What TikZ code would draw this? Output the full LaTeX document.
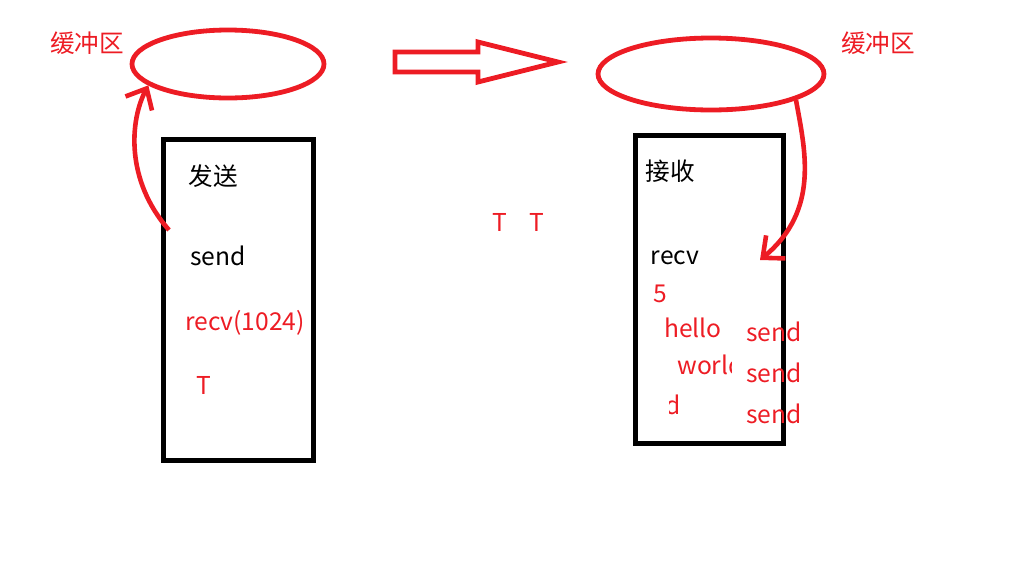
\documentclass[tikz,border=0pt]{standalone}
\usepackage{fontspec}
\setmainfont{Noto Sans CJK SC}
\definecolor{paintred}{RGB}{237, 28, 36}
\usetikzlibrary{shapes, arrows.meta, positioning, calc}

\begin{document}
\begin{tikzpicture}[x=0.5pt, y=-0.5pt,
    redtxt/.style={text=paintred, font=\fontsize{12.3}{14}\selectfont, inner sep=0pt},
    blacktxt/.style={text=black, font=\fontsize{12.3}{14}\selectfont, inner sep=0pt},
    buffer/.style={draw=paintred, line width=2.4pt, ellipse, inner sep=0pt},
    proc/.style={draw=black, line width=2.5pt, inner sep=0pt},
    flow/.style={draw=paintred, line width=2.3pt,
                 -{Straight Barb[length=8.5pt, width=15pt]}}]
    \useasboundingbox (0,0) rectangle (1018,579);

    % Buffers
    \node[buffer, minimum width=96pt, minimum height=34pt] (lbuf) at (228,64) {};
    \node[buffer, minimum width=113pt, minimum height=36pt] (rbuf) at (711,74) {};
    \node[redtxt] (lbuflabel) at (87,43) {缓冲区};
    \node[redtxt] (rbuflabel) at (878,43) {缓冲区};

    % Transfer arrow
    \draw[draw=paintred, line width=2.4pt, line join=miter]
      (395,52) -- (478,52) -- (478,42) -- (558,62) -- (478,82)
      -- (478,72) -- (395,72) -- cycle;
    \node[redtxt] (tone) at (500,222) {T};
    \node[redtxt] (ttwo) at (537,222) {T};

    % Sender
    \node[proc, minimum width=75pt, minimum height=160.5pt] (sendbox) at (238,299.5) {};
    \node[blacktxt] (sendtitle) at (213,176) {发送};
    \node[blacktxt] (sendcall) at (218,256) {send};
    \node[redtxt] (sendrecv) at (245,323) {recv(1024)};
    \node[redtxt] (sendt) at (204,385) {T};
    \coordinate (sendtail) at (169,230);
    \draw[flow] (sendtail) .. controls (125,180) and (130,120) .. (lbuf.195);

    % Receiver
    \node[proc, minimum width=74pt, minimum height=154pt] (recvbox) at (709,289) {};
    \node[blacktxt] (recvtitle) at (670,171) {接收};
    \node[blacktxt] (recvcall) at (675,258) {recv};
    \node[redtxt] (recvlen) at (660,294) {5};
    \node[redtxt] (hellotxt) at (693,328) {hello};
    \begin{scope}
      \clip (600,345) rectangle (731,388);
      \node[redtxt, anchor=west] (worldtxt) at (677,365) {world};
    \end{scope}
    \begin{scope}
      \clip (669,385) rectangle (720,425);
      \node[redtxt, anchor=west] (dtxt) at (665,405) {d};
    \end{scope}
    \foreach \y [count=\i] in {332,373,414}{
      \node[redtxt] (send\i) at (774,\y) {send};
    }
    \coordinate (recvtip) at (760,260);
    \draw[flow] (rbuf.-17) .. controls (805,150) and (820,210) .. (recvtip);
\end{tikzpicture}
\end{document}
